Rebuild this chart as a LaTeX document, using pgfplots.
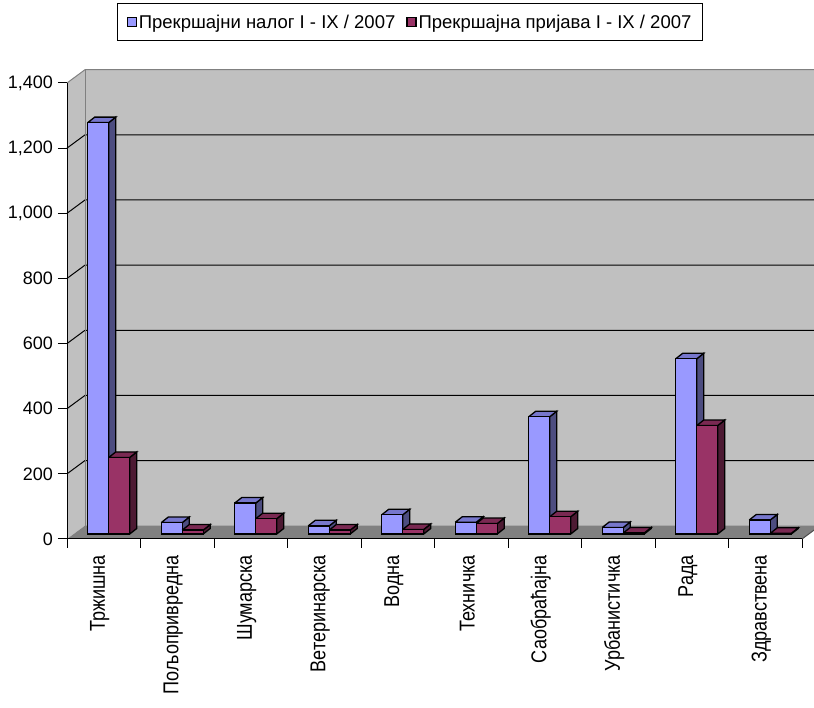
\documentclass[border=0pt]{standalone}
\usepackage{fontspec}
\setmainfont{Liberation Sans}
\newfontfamily\catfont[FakeStretch=0.84]{Liberation Sans}
\usepackage{pgfplots}
\usepackage{pgfplotstable}
\pgfplotsset{compat=1.18}

\definecolor{bfront}{HTML}{9999FF}
\definecolor{bside}{HTML}{4D4D80}
\definecolor{btop}{HTML}{7777CC}
\definecolor{rfront}{HTML}{993366}
\definecolor{rside}{HTML}{4D1A33}
\definecolor{rtop}{HTML}{7A2952}
\definecolor{wall}{HTML}{C0C0C0}
\definecolor{floorc}{HTML}{808080}

% a = Прекршајни налог, b = Прекршајна пријава
\pgfplotstableread{
a b
1263 235
35 12
95 47
25 12
59 14
36 32
360 53
20 3
538 333
43 2
}\data

\newcommand\bw{0.2857}   % bar width (category units)
\newcommand\ddx{0.0952}  % bar depth, x
\newcommand\ddy{16.9}    % bar depth, y
\tikzset{
  back/.style={xshift=18pt,yshift=13.3pt},
  bar3d/.style={xshift=5pt,yshift=5pt,draw=black,line width=1.3pt,mark=none},
}

% side and top faces of one series
\newcommand\barfaces[4]{%
  \pgfplotsforeachungrouped \i in {0,...,9}{%
    \pgfplotstablegetelem{\i}{#1}\of\data
    \let\val\pgfplotsretval
    \pgfmathsetmacro\xa{\i+#2}%
    \pgfmathsetmacro\xb{\xa+\bw}%
    \pgfmathsetmacro\xc{\xb+\ddx}%
    \pgfmathsetmacro\xd{\xa+\ddx}%
    \pgfmathsetmacro\vt{\val+\ddy}%
    \edef\tmp{%
      \noexpand\addplot[forget plot,bar3d,fill=#3] coordinates
        {(\xb,0) (\xc,\ddy) (\xc,\vt) (\xb,\val) (\xb,0)};
      \noexpand\addplot[forget plot,bar3d,fill=#4] coordinates
        {(\xa,\val) (\xb,\val) (\xc,\vt) (\xd,\vt) (\xa,\val)};
    }%
    \tmp
  }%
}

\begin{document}
\begin{tikzpicture}[font=\fontsize{18}{21}\selectfont]
\begin{axis}[
  at={(67pt,169pt)}, anchor=south west,
  scale only axis, width=735pt, height=456pt,
  xmin=-0.5, xmax=9.5, ymin=0, ymax=1400,
  enlargelimits=false, clip=false, axis on top,
  axis lines*=left,
  axis line style={black,line width=1pt},
  xtick={0,...,9},
  xticklabels={Тржишна,Пољопривредна,Шумарска,Ветеринарска,Водна,Техничка,Саобраћајна,Урбанистичка,Рада,Здравствена},
  xtick style={draw=none},
  tick label style={font=\fontsize{18}{21}\selectfont},
  xticklabel style={xshift=-4pt,yshift=-7pt,rotate=90,anchor=east,inner sep=0pt,
    font=\catfont\fontsize{21.5}{24}\selectfont},
  ytick={0,200,...,1400},
  tick align=outside, major tick length=9pt,
  ytick style={black,line width=1pt},
  yticklabel style={inner sep=0pt,xshift=-5pt},
  /pgf/number format/.cd, 1000 sep={,}, assume math mode=true,
  /pgfplots/.cd,
  legend columns=2,
  legend cell align=left,
  legend style={at={(0.4667,1.175)}, anchor=north, draw=black, line width=1pt,
    font=\fontsize{18.5}{21}\selectfont, inner xsep=9pt, inner ysep=9pt,
    /tikz/every even column/.append style={column sep=9pt}},
]
% walls and floor
\fill[wall] (axis cs:-0.5,0) -- ([back]axis cs:-0.5,0) -- ([back]axis cs:-0.5,1400) -- (axis cs:-0.5,1400) -- cycle;
\fill[wall] ([back]axis cs:-0.5,0) rectangle ([back]axis cs:9.5,1400);
\fill[floorc] (axis cs:-0.5,0) -- (axis cs:9.5,0) -- ([back]axis cs:9.5,0) -- ([back]axis cs:-0.5,0) -- cycle;
\pgfplotsinvokeforeach{200,400,...,1200}{
  \draw[black,line width=1pt] (axis cs:-0.5,#1) -- ([back]axis cs:-0.5,#1) -- ([back]axis cs:9.5,#1);
}
\draw[floorc,line width=1pt] (axis cs:-0.5,1400) -- ([back]axis cs:-0.5,1400) -- ([back]axis cs:9.5,1400);
\draw[floorc,line width=1pt] ([back]axis cs:-0.5,0) -- ([back]axis cs:-0.5,1400);
\draw[floorc!60!black,line width=1pt] (axis cs:9.5,0) -- ([back]axis cs:9.5,0);
\pgfplotsinvokeforeach{-0.5,0.5,...,9.5}{
  \draw[black,line width=1pt] (axis cs:#1,0) -- ([yshift=-9pt]axis cs:#1,0);
}

% bars
\barfaces{a}{-\bw}{bside}{btop}
\addplot[forget plot,ybar,bar width=\bw,bar shift=-0.14285,bar3d,fill=bfront]
  table[x expr=\coordindex,y=a]{\data};
\barfaces{b}{0}{rside}{rtop}
\addplot[forget plot,ybar,bar width=\bw,bar shift=0.14285,bar3d,fill=rfront]
  table[x expr=\coordindex,y=b]{\data};

\addlegendimage{legend image code/.code={\draw[fill=bfront,draw=black,line width=1.2pt] (0pt,-4.5pt) rectangle (9pt,4.5pt);}}
\addlegendentry{Прекршајни налог I - IX / 2007}
\addlegendimage{legend image code/.code={\draw[fill=rfront,draw=black,line width=1.2pt] (0pt,-4.5pt) rectangle (9pt,4.5pt);}}
\addlegendentry{Прекршајна пријава I - IX / 2007}
\end{axis}
\pgfresetboundingbox
\path (0,0) rectangle (814pt,708pt);
\end{tikzpicture}
\end{document}
